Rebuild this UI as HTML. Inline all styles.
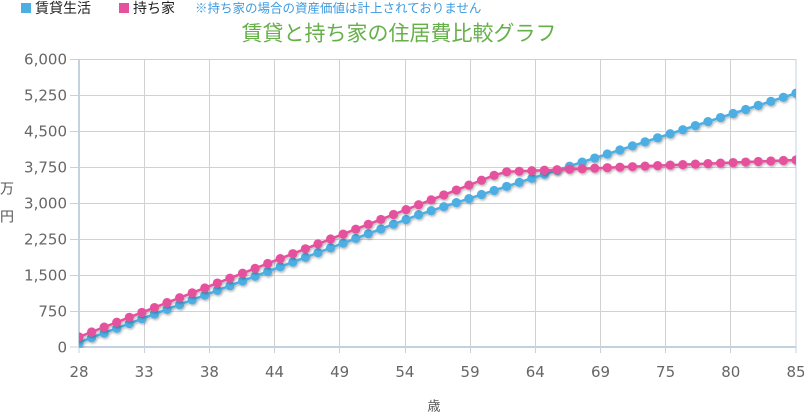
<!DOCTYPE html>
<html><head><meta charset="utf-8"><style>
html,body{margin:0;padding:0;background:#fff;}
svg{display:block;}
</style></head><body>
<svg width="804" height="413" viewBox="0 0 804 413" xmlns="http://www.w3.org/2000/svg">
<defs>
<clipPath id="pc"><rect x="79" y="40" width="717" height="308"/></clipPath>
<filter id="sh" x="-5%" y="-5%" width="110%" height="110%">
<feDropShadow dx="1" dy="1.5" stdDeviation="1" flood-color="#000" flood-opacity="0.28"/>
</filter>
<marker id="mb" markerUnits="userSpaceOnUse" markerWidth="12" markerHeight="12" refX="6" refY="6" viewBox="0 0 12 12"><circle cx="6" cy="6" r="4.6" fill="#4daee3"/></marker>
<marker id="mp" markerUnits="userSpaceOnUse" markerWidth="12" markerHeight="12" refX="6" refY="6" viewBox="0 0 12 12"><circle cx="6" cy="6" r="4.6" fill="#e6519d"/></marker>
</defs>

<!-- legend -->
<rect x="21" y="3" width="10" height="10" fill="#4daee3"/>
<text x="35" y="13" font-family="'Liberation Sans','Noto Sans CJK JP',sans-serif" font-size="14" fill="#222">賃貸生活</text>
<rect x="119" y="3" width="10" height="10" fill="#e6519d"/>
<text x="133" y="13" font-family="'Liberation Sans','Noto Sans CJK JP',sans-serif" font-size="14" fill="#222">持ち家</text>
<text x="195" y="12.5" font-family="'Liberation Sans','Noto Sans CJK JP',sans-serif" font-size="12.5" fill="#3d9be0">※持ち家の場合の資産価値は計上されておりません</text>

<!-- title -->
<text x="399" y="40.5" text-anchor="middle" font-family="'Liberation Sans','Noto Sans CJK JP',sans-serif" font-size="21" fill="#66b04a">賃貸と持ち家の住居費比較グラフ</text>

<!-- grid -->
<g stroke="#d2d2d2" stroke-width="1">
<line x1="79" y1="59.5" x2="796" y2="59.5"/>
<line x1="79" y1="95.5" x2="796" y2="95.5"/>
<line x1="79" y1="131.5" x2="796" y2="131.5"/>
<line x1="79" y1="167.5" x2="796" y2="167.5"/>
<line x1="79" y1="203.5" x2="796" y2="203.5"/>
<line x1="79" y1="239.5" x2="796" y2="239.5"/>
<line x1="79" y1="275.5" x2="796" y2="275.5"/>
<line x1="79" y1="311.5" x2="796" y2="311.5"/>
<line x1="144.5" y1="59" x2="144.5" y2="347"/>
<line x1="209.5" y1="59" x2="209.5" y2="347"/>
<line x1="274.5" y1="59" x2="274.5" y2="347"/>
<line x1="339.5" y1="59" x2="339.5" y2="347"/>
<line x1="405.5" y1="59" x2="405.5" y2="347"/>
<line x1="470.5" y1="59" x2="470.5" y2="347"/>
<line x1="535.5" y1="59" x2="535.5" y2="347"/>
<line x1="600.5" y1="59" x2="600.5" y2="347"/>
<line x1="665.5" y1="59" x2="665.5" y2="347"/>
<line x1="730.5" y1="59" x2="730.5" y2="347"/>
</g>
<!-- axes / border -->
<g stroke="#c4d2df" fill="none">
<rect x="79" y="59.5" width="717" height="287.5" stroke-width="1"/>
<line x1="79" y1="59" x2="79" y2="347" stroke-width="2"/>
<line x1="79" y1="347" x2="796" y2="347" stroke-width="2"/>
<g stroke-width="1">
<line x1="70" y1="59.5" x2="79" y2="59.5"/>
<line x1="70" y1="95.5" x2="79" y2="95.5"/>
<line x1="70" y1="131.5" x2="79" y2="131.5"/>
<line x1="70" y1="167.5" x2="79" y2="167.5"/>
<line x1="70" y1="203.5" x2="79" y2="203.5"/>
<line x1="70" y1="239.5" x2="79" y2="239.5"/>
<line x1="70" y1="275.5" x2="79" y2="275.5"/>
<line x1="70" y1="311.5" x2="79" y2="311.5"/>
<line x1="70" y1="347" x2="79" y2="347"/>
<line x1="79" y1="347" x2="79" y2="353"/>
<line x1="144.5" y1="347" x2="144.5" y2="353"/>
<line x1="209.5" y1="347" x2="209.5" y2="353"/>
<line x1="274.5" y1="347" x2="274.5" y2="353"/>
<line x1="339.5" y1="347" x2="339.5" y2="353"/>
<line x1="405.5" y1="347" x2="405.5" y2="353"/>
<line x1="470.5" y1="347" x2="470.5" y2="353"/>
<line x1="535.5" y1="347" x2="535.5" y2="353"/>
<line x1="600.5" y1="347" x2="600.5" y2="353"/>
<line x1="665.5" y1="347" x2="665.5" y2="353"/>
<line x1="730.5" y1="347" x2="730.5" y2="353"/>
<line x1="796" y1="347" x2="796" y2="353"/>
</g>
</g>

<!-- y labels -->
<g font-family="'DejaVu Sans',sans-serif" font-size="15" fill="#666" text-anchor="end">
<text x="67" y="64.5">6,000</text>
<text x="67" y="100.5">5,250</text>
<text x="67" y="136.5">4,500</text>
<text x="67" y="172.5">3,750</text>
<text x="67" y="208.5">3,000</text>
<text x="67" y="244.5">2,250</text>
<text x="67" y="280.5">1,500</text>
<text x="67" y="316.5">750</text>
<text x="67" y="352.5">0</text>
</g>
<!-- x labels -->
<g font-family="'DejaVu Sans',sans-serif" font-size="15" fill="#666" text-anchor="middle">
<text x="79" y="377">28</text>
<text x="144.2" y="377">33</text>
<text x="209.4" y="377">38</text>
<text x="274.5" y="377">44</text>
<text x="339.7" y="377">49</text>
<text x="404.9" y="377">54</text>
<text x="470.1" y="377">59</text>
<text x="535.3" y="377">64</text>
<text x="600.5" y="377">69</text>
<text x="665.6" y="377">75</text>
<text x="730.8" y="377">80</text>
<text x="796" y="377">85</text>
</g>
<!-- axis titles -->
<g font-family="'Liberation Sans','Noto Sans CJK JP',sans-serif" font-size="14" fill="#555">
<text x="0" y="193.5">万</text>
<text x="0" y="221.5">円</text>
<text x="434" y="410.5" text-anchor="middle" font-size="13">歳</text>
</g>

<!-- series -->
<g clip-path="url(#pc)">
<g filter="url(#sh)">
<polyline fill="none" stroke="#4daee3" stroke-width="2.5" stroke-linejoin="round" marker-start="url(#mb)" marker-mid="url(#mb)" marker-end="url(#mb)" points="79.00,342.44 91.58,337.71 104.16,332.98 116.74,328.26 129.32,323.53 141.89,318.80 154.47,314.07 167.05,309.34 179.63,304.62 192.21,299.89 204.79,295.16 217.37,290.43 229.95,285.70 242.53,280.98 255.10,276.25 267.68,271.52 280.26,266.79 292.84,262.06 305.42,257.34 318.00,252.61 330.58,247.88 343.16,243.15 355.74,238.42 368.31,233.70 380.89,228.97 393.47,224.24 406.05,219.51 418.63,214.78 431.21,210.73 443.79,206.68 456.37,202.63 468.95,198.58 481.52,194.52 494.10,190.47 506.68,186.42 519.26,182.37 531.84,178.32 544.42,174.27 557.00,170.22 569.58,166.17 582.16,162.11 594.73,158.06 607.31,154.01 619.89,149.96 632.47,145.91 645.05,141.86 657.63,137.81 670.21,133.76 682.79,129.70 695.37,125.65 707.94,121.60 720.52,117.55 733.10,113.50 745.68,109.45 758.26,105.40 770.84,101.35 783.42,97.30 796.00,93.24"/>
</g>
<g filter="url(#sh)">
<polyline fill="none" stroke="#e6519d" stroke-width="2.5" stroke-linejoin="round" marker-start="url(#mp)" marker-mid="url(#mp)" marker-end="url(#mp)" points="79.00,336.92 91.58,332.02 104.16,327.13 116.74,322.23 129.32,317.34 141.89,312.44 154.47,307.54 167.05,302.65 179.63,297.75 192.21,292.86 204.79,287.96 217.37,283.06 229.95,278.17 242.53,273.27 255.10,268.38 267.68,263.48 280.26,258.58 292.84,253.69 305.42,248.79 318.00,243.90 330.58,239.00 343.16,234.10 355.74,229.21 368.31,224.31 380.89,219.42 393.47,214.52 406.05,209.62 418.63,204.73 431.21,199.83 443.79,194.94 456.37,190.04 468.95,185.14 481.52,180.25 494.10,175.35 506.68,171.80 519.26,171.29 531.84,170.77 544.42,170.26 557.00,169.75 569.58,169.23 582.16,168.72 594.73,168.21 607.31,167.69 619.89,167.18 632.47,166.67 645.05,166.15 657.63,165.64 670.21,165.13 682.79,164.61 695.37,164.10 707.94,163.59 720.52,163.07 733.10,162.56 745.68,162.05 758.26,161.53 770.84,161.02 783.42,160.51 796.00,159.99"/>
</g>
</g>
</svg>
</body></html>
